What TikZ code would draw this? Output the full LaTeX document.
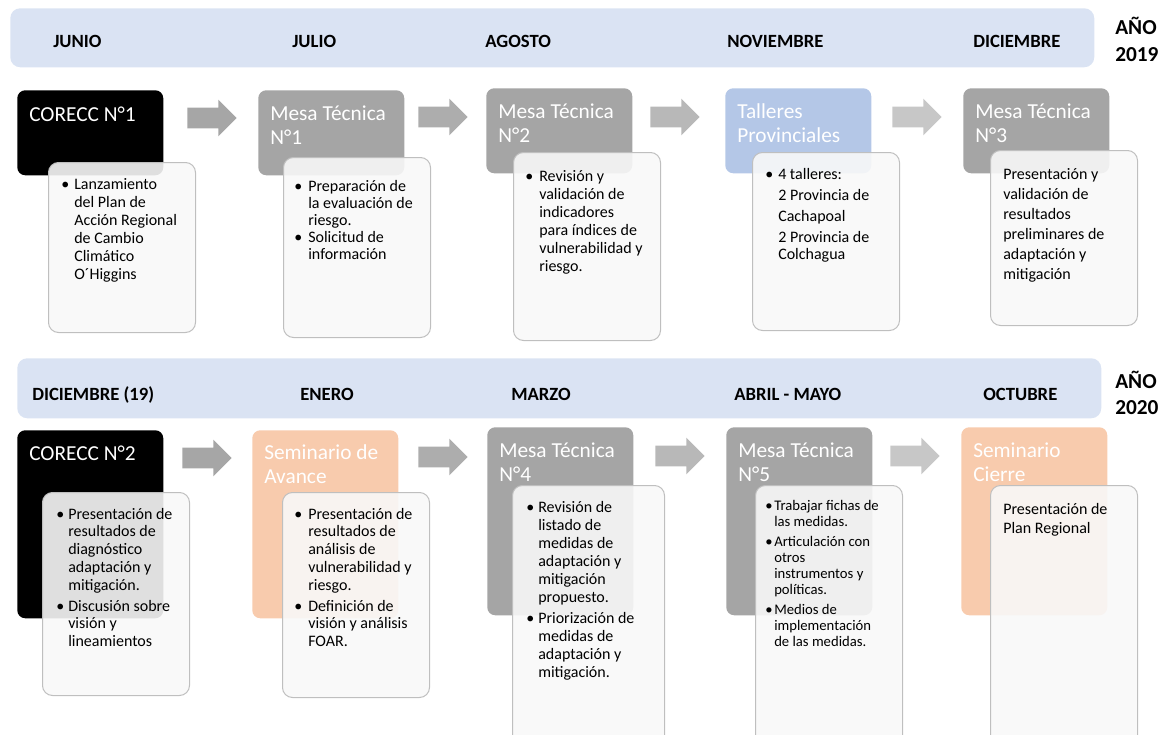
\documentclass[tikz,border=0pt]{standalone}
\usepackage{fontspec}
\setmainfont{Carlito}
\usetikzlibrary{shapes.arrows}

\definecolor{celeste}{HTML}{DAE3F3}
\definecolor{gris}{HTML}{A5A5A5}
\definecolor{azul}{HTML}{B4C7E7}
\definecolor{salmon}{HTML}{F8CBAD}
\definecolor{borde}{HTML}{BFBFBF}
\definecolor{hoja}{HTML}{F8F8F8}

\tikzset{
	banda/.style={anchor=north west, fill=celeste, rounded corners=7.5pt, minimum width=813pt, minimum height=44.25pt, inner sep=0pt},
	mes/.style={anchor=base west, inner sep=0pt, font=\fontsize{14}{16}\selectfont\bfseries},
	anio/.style={anchor=base west, inner sep=0pt, font=\fontsize{16}{20}\selectfont\bfseries},
	caja/.style={anchor=north west, minimum width=109.5pt, rounded corners=6pt, inner sep=0pt},
	titulo/.style={anchor=base west, inner sep=0pt, text=white, font=\fontsize{16}{18}\selectfont},
	flecha/.style={single arrow, anchor=tip, minimum height=37pt, text height=7.5pt, text depth=7.5pt, text width=0pt, single arrow head extend=6pt, single arrow head indent=0pt, inner sep=0pt},
	detalle/.style={anchor=north west, minimum width=110.25pt, draw=borde, line width=0.75pt, fill=hoja, fill opacity=0.9, rounded corners=7.5pt, inner sep=0pt},
	texto/.style={anchor=base west, inner sep=0pt, font=\fontsize{12}{13.5}\selectfont}
}

\begin{document}
\begin{tikzpicture}[x=0.75pt,y=-0.75pt]
	\useasboundingbox (0,0) rectangle (1167,735);
	\clip (0,0) rectangle (1167,735);
	\node[banda] (b1) at (10,8) {};
	\node[banda, minimum height=45pt] (b2) at (17,358) {};
	\node[mes] (m1) at (53,48) {JUNIO};
	\node[mes] (m2) at (292,48) {JULIO};
	\node[mes] (m3) at (485,48) {AGOSTO};
	\node[mes] (m4) at (727,48) {NOVIEMBRE};
	\node[mes] (m5) at (973,48) {DICIEMBRE};
	\node[mes] (m6) at (32,400) {DICIEMBRE (19)};
	\node[mes] (m7) at (300,400) {ENERO};
	\node[mes] (m8) at (511,400) {MARZO};
	\node[mes] (m9) at (734,400) {ABRIL - MAYO};
	\node[mes] (m10) at (983,400) {OCTUBRE};
	\node[anio] (y1) at (1115,35) {\begin{tabular}[t]{@{}l@{}}AÑO\\2019\end{tabular}};
	\node[anio] (y2) at (1115,388) {\begin{tabular}[t]{@{}l@{}}AÑO\\2020\end{tabular}};

	\node[caja, fill=black, minimum height=63.75pt] (t1) at (17,90) {};
	\node[caja, fill=gris, minimum height=63.75pt] (t2) at (258,90) {};
	\node[caja, fill=gris, minimum height=63.75pt] (t3) at (486,88) {};
	\node[caja, fill=azul, minimum height=63.75pt] (t4) at (725,88) {};
	\node[caja, fill=gris, minimum height=63.75pt] (t5) at (963,88) {};
	\node[caja, fill=black, minimum height=141pt] (t6) at (17,430) {};
	\node[caja, fill=salmon, minimum height=141pt] (t7) at (252,430) {};
	\node[caja, fill=gris, minimum height=141pt] (t8) at (487,427) {};
	\node[caja, fill=gris, minimum height=141pt] (t9) at (726,427) {};
	\node[caja, fill=salmon, minimum height=141pt] (t10) at (961,427) {};

	\node[titulo] (n1) at (29,122) {CORECC N°1};
	\node[titulo] (n2) at (270,120) {\begin{tabular}[t]{@{}l@{}}Mesa Técnica\\N°1\end{tabular}};
	\node[titulo] (n3) at (498,118) {\begin{tabular}[t]{@{}l@{}}Mesa Técnica\\N°2\end{tabular}};
	\node[titulo] (n4) at (737,118) {\begin{tabular}[t]{@{}l@{}}Talleres\\Provinciales\end{tabular}};
	\node[titulo] (n5) at (975,118) {\begin{tabular}[t]{@{}l@{}}Mesa Técnica\\N°3\end{tabular}};
	\node[titulo] (n6) at (29,460) {CORECC N°2};
	\node[titulo] (n7) at (264,459) {\begin{tabular}[t]{@{}l@{}}Seminario de\\Avance\end{tabular}};
	\node[titulo] (n8) at (499,457) {\begin{tabular}[t]{@{}l@{}}Mesa Técnica\\N°4\end{tabular}};
	\node[titulo] (n9) at (738,457) {\begin{tabular}[t]{@{}l@{}}Mesa Técnica\\N°5\end{tabular}};
	\node[titulo] (n10) at (973,457) {\begin{tabular}[t]{@{}l@{}}Seminario\\Cierre\end{tabular}};

	\node[flecha, fill=black!35] (a1) at (237,118) {};
	\node[flecha, fill=black!32] (a2) at (468,117) {};
	\node[flecha, fill=black!28] (a3) at (700,117) {};
	\node[flecha, fill=black!22] (a4) at (942,117) {};
	\node[flecha, fill=black!35] (a5) at (232,458) {};
	\node[flecha, fill=black!32] (a6) at (468,457) {};
	\node[flecha, fill=black!28] (a7) at (705,456) {};
	\node[flecha, fill=black!22] (a8) at (940,456) {};

	\node[detalle, minimum height=127.5pt] (d1) at (48,162) {};
	\node[detalle, minimum height=135pt] (d2) at (283,157) {};
	\node[detalle, minimum height=141pt] (d3) at (513,152) {};
	\node[detalle, minimum height=133.5pt] (d4) at (752,152) {};
	\node[detalle, minimum height=131.25pt] (d5) at (990,150) {};
	\node[detalle, minimum height=152.25pt] (d6) at (42,492) {};
	\node[detalle, minimum height=153.75pt] (d7) at (282,492) {};
	\node[detalle, minimum width=114pt, minimum height=206.25pt] (d8) at (512,485) {};
	\node[detalle, minimum height=206.25pt] (d9) at (755,485) {};
	\node[detalle, minimum height=206.25pt] (d10) at (990,485) {};

	\node[texto] (x1) at (61,189) {\begin{tabular}[t]{@{}p{9.75pt}@{}l@{}}
		\textbullet & Lanzamiento\\
		& del Plan de\\
		& Acción Regional\\
		& de Cambio\\
		& Climático\\
		& O´Higgins
	\end{tabular}};
	\node[texto, font=\fontsize{12}{12.75}\selectfont] (x2) at (294,191) {\begin{tabular}[t]{@{}p{10.5pt}@{}l@{}}
		\textbullet & Preparación de\\
		& la evaluación de\\
		& riesgo.\\
		\textbullet & Solicitud de\\
		& información
	\end{tabular}};
	\node[texto] (x3) at (525,181) {\begin{tabular}[t]{@{}p{10.5pt}@{}l@{}}
		\textbullet & Revisión y\\
		& validación de\\
		& indicadores\\
		& para índices de\\
		& vulnerabilidad y\\
		& riesgo.
	\end{tabular}};
	\node[texto, font=\fontsize{12}{15.75}\selectfont] (x4) at (765,179) {\begin{tabular}[t]{@{}p{9.75pt}@{}l@{}}
		\textbullet & 4 talleres:\\
		& 2 Provincia de\\
		& Cachapoal\\
		& 2 Provincia de\\[-3pt]
		& Colchagua
	\end{tabular}};
	\node[texto, font=\fontsize{12}{15}\selectfont] (x5) at (1003,179) {\begin{tabular}[t]{@{}l@{}}
		Presentación y\\
		validación de\\
		resultados\\
		preliminares de\\
		adaptación y\\
		mitigación
	\end{tabular}};
	\node[texto, font=\fontsize{12}{13.35}\selectfont] (x6) at (56,519) {\begin{tabular}[t]{@{}p{9pt}@{}l@{}}
		\textbullet & Presentación de\\
		& resultados de\\
		& diagnóstico\\
		& adaptación y\\
		& mitigación.\\[2.25pt]
		\textbullet & Discusión sobre\\
		& visión y\\
		& lineamientos
	\end{tabular}};
	\node[texto, font=\fontsize{12}{13.35}\selectfont] (x7) at (294,519) {\begin{tabular}[t]{@{}p{10.5pt}@{}l@{}}
		\textbullet & Presentación de\\
		& resultados de\\
		& análisis de\\
		& vulnerabilidad y\\
		& riesgo.\\[2.25pt]
		\textbullet & Definición de\\
		& visión y análisis\\
		& FOAR.
	\end{tabular}};
	\node[texto] (x8) at (526,512) {\begin{tabular}[t]{@{}p{9pt}@{}l@{}}
		\textbullet & Revisión de\\
		& listado de\\
		& medidas de\\
		& adaptación y\\
		& mitigación\\
		& propuesto.\\[2.25pt]
		\textbullet & Priorización de\\
		& medidas de\\
		& adaptación y\\
		& mitigación.
	\end{tabular}};
	\node[texto, font=\fontsize{11}{12}\selectfont] (x9) at (765,510) {\begin{tabular}[t]{@{}p{6.75pt}@{}l@{}}
		\textbullet & Trabajar fichas de\\
		& las medidas.\\[3pt]
		\textbullet & Articulación con\\
		& otros\\
		& instrumentos y\\
		& políticas.\\[3pt]
		\textbullet & Medios de\\
		& implementación\\
		& de las medidas.
	\end{tabular}};
	\node[texto, font=\fontsize{12}{14.25}\selectfont] (x10) at (1003,514) {\begin{tabular}[t]{@{}l@{}}
		Presentación de\\
		Plan Regional
	\end{tabular}};
\end{tikzpicture}
\end{document}
